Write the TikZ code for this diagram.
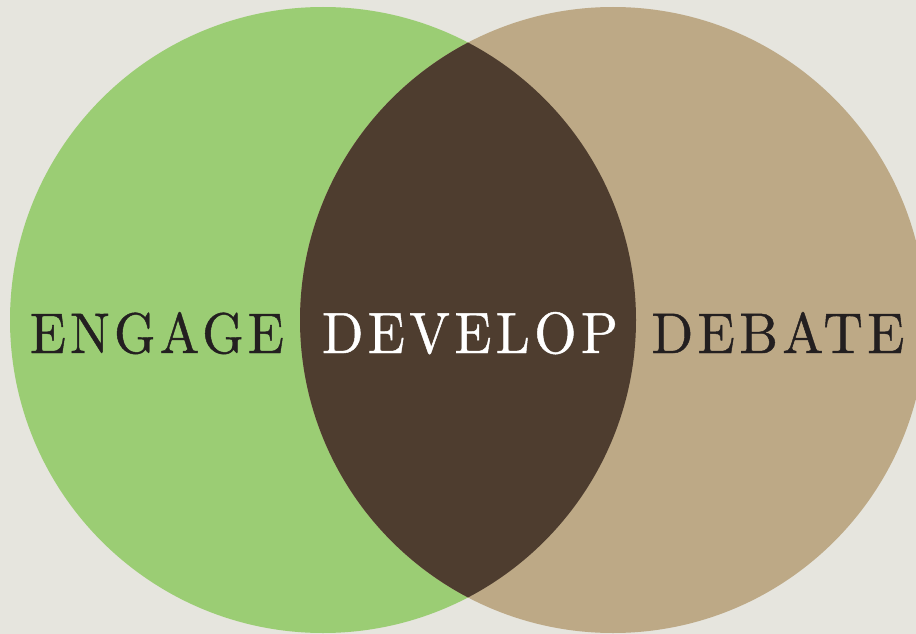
\documentclass[tikz,border=0pt]{standalone}
\usepackage{fontspec}
\usepackage{graphicx}
\newfontfamily\vennfont[LetterSpace=8, FakeBold=0.8]{Latin Modern Roman}
\definecolor{paper}{RGB}{230,229,222}
\definecolor{meadow}{RGB}{155,205,116}
\definecolor{sand}{RGB}{189,169,134}
\definecolor{cocoa}{RGB}{78,61,47}
\definecolor{ink}{RGB}{35,31,32}
\tikzset{
    disc/.style={fill=#1},
    word/.style={anchor=base, inner sep=0pt, font=\vennfont, text=ink},
    lightword/.style={word, text=white},
}

\begin{document}
\begin{tikzpicture}[x=1pt, y=-1pt]
\fill[paper] (0,0) rectangle (916,634);
\useasboundingbox (0,0) rectangle (916,634);

\coordinate (left) at (323,320);
\coordinate (right) at (613,320);

\fill[disc=meadow] (left) circle[radius=313pt];
\fill[disc=sand] (right) circle[radius=313pt];
\begin{scope}
    \clip (left) circle[radius=313pt];
    \fill[disc=cocoa] (right) circle[radius=313pt];
\end{scope}

\node[word] (engage) at (157,353) {\resizebox{254pt}{41pt}{ENGAGE}};
\node[lightword] (develop) at (470,353) {\resizebox{296pt}{41pt}{DEVELOP}};
\node[word] (debate) at (778,353) {\resizebox{253pt}{41pt}{DEBATE}};

\end{tikzpicture}
\end{document}
